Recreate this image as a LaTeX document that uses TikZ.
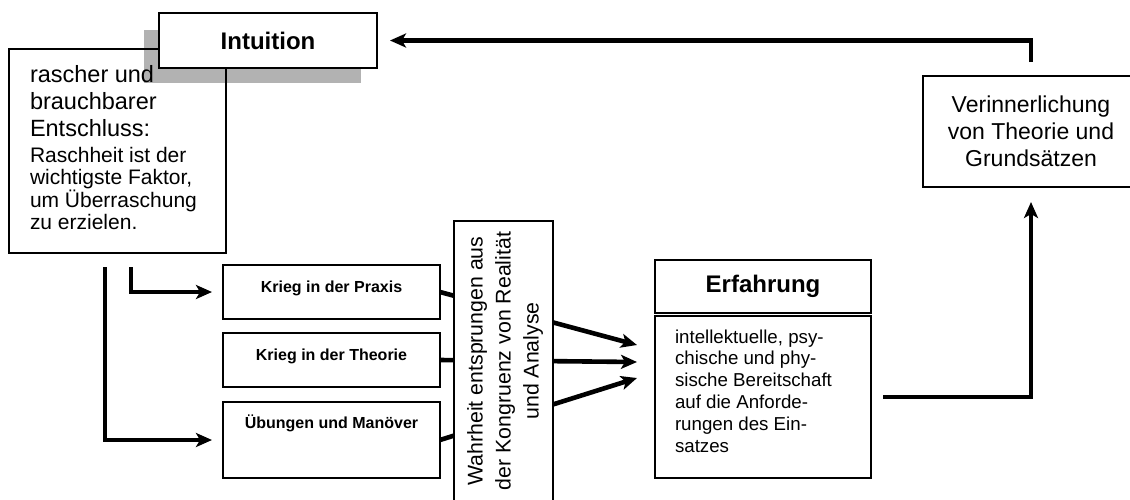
\documentclass[tikz,border=0pt]{standalone}
\usepackage{fontspec}
\setmainfont{Liberation Sans}
\usetikzlibrary{arrows.meta,calc,positioning}

\tikzstyle{every node}=[inner sep=0pt, outer sep=0pt]
\tikzstyle{box}=[rectangle, draw=black, line width=1.6pt, fill=white]
\tikzstyle{headbox}=[box, font=\fontsize{24}{28}\selectfont\bfseries, minimum width=218pt, minimum height=55pt]
\tikzstyle{kriegbox}=[box, font=\fontsize{16}{19}\selectfont\bfseries, minimum width=217pt, minimum height=54pt, text height=11pt, text depth=11pt]
\tikzstyle{bigtext}=[font=\fontsize{23.5}{27}\selectfont, align=left]
\tikzstyle{smalltext}=[font=\fontsize{21}{21.7}\selectfont, align=left]
\tikzstyle{bodytext}=[font=\fontsize{18.7}{21.8}\selectfont, align=left]
\tikzstyle{flow}=[line width=4.6pt, ->]
\definecolor{colorshadow}{gray}{0.7}

\begin{document}
\begin{tikzpicture}[x=1pt, y=-1pt, >={Stealth[length=16pt, width=14pt, inset=4pt]}]
	\useasboundingbox (0, 0) rectangle (1130, 499);
	\clip (0, 0) rectangle (1130, 499);
	
	\fill[colorshadow] (144, 30) rectangle (361, 83);
	
	\node[box, fill=none, minimum width=217pt, minimum height=204pt] at (117.5, 151) (entschluss) {};
	
	\node[bigtext, anchor=north west] at (30, 65.9) (entschlusskopf) {rascher und\\brauchbarer\\Entschluss:};
	
	\node[smalltext, anchor=north west] at (30, 147.7) (entschlusstext) {Raschheit ist der\\wichtigste Faktor,\\um Überraschung\\zu erzielen.};
	
	\node[headbox] at (268, 40.5) (intuition) {Intuition};
	
	\node[box, align=center, font=\fontsize{23}{27}\selectfont, minimum width=216pt, minimum height=111pt] at (1031, 131.5) (verinnerlichung) {Verinnerlichung\\von Theorie und\\Grundsätzen};
	
	\node[kriegbox] at (331.5, 292) (praxis) {Krieg in der Praxis};
	
	\node[kriegbox] at (331.5, 360) (theorie) {Krieg in der Theorie};
	
	\node[kriegbox, minimum height=76pt, text depth=35pt] at (331.5, 440) (uebungen) {Übungen und Manöver};
	
	\node[headbox, minimum width=216pt, minimum height=53pt] at (763, 286.5) (erfahrung) {Erfahrung};
	
	\node[box, minimum width=216pt, minimum height=162pt] at (763, 397) (bereitschaft) {};
	
	\node[bodytext, anchor=north west] at (675, 329.5) (bereitschafttext) {intellektuelle, psy-\\chische und phy-\\sische Bereitschaft\\auf die Anforde-\\rungen des Ein-\\satzes};
	
	\coordinate (ziel1) at (637, 345);
	\coordinate (ziel2) at (637, 362);
	\coordinate (ziel3) at (637, 378);
	
	\draw[flow] (praxis.east) -- (ziel1);
	\draw[flow] (theorie.east) -- (ziel2);
	\draw[flow] (uebungen.east) -- (ziel3);
	
	\node[box, minimum width=99pt, minimum height=300pt, anchor=north] at (503.5, 221) (wahrheit) {};
	
	\node[rotate=90, align=center, font=\fontsize{21.3}{28}\selectfont] at (505, 361) (wahrheittext) {Wahrheit entsprungen aus\\der Kongruenz von Realität\\und Analyse};
	
	\draw[flow, shorten <=14pt, shorten >=11pt] ($(entschluss.south west)+(96, 0)$) |- (uebungen.west);
	\draw[flow, shorten <=14pt, shorten >=11pt] ($(entschluss.south west)+(122, 0)$) |- (praxis.west);
	\draw[flow, shorten <=12pt, shorten >=15pt] (bereitschaft.east) -| (verinnerlichung.south);
	\draw[flow, shorten <=14pt, shorten >=13pt] (verinnerlichung.north) |- (intuition.east);
	
\end{tikzpicture}
\end{document}
